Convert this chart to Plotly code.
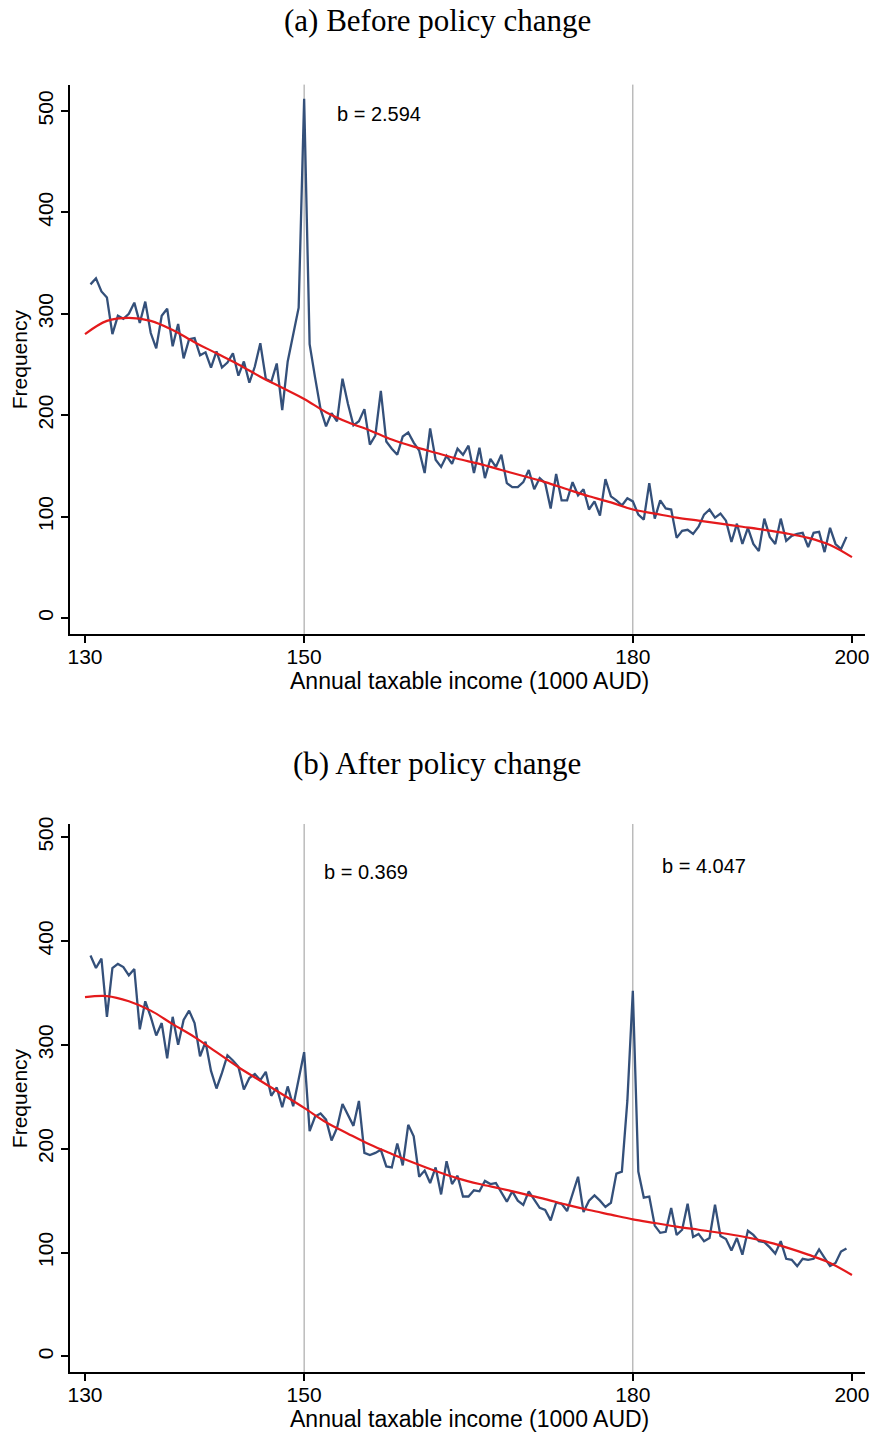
import numpy as np
import plotly.graph_objects as go

# ---------------- data ----------------
income_bins = list(np.arange(130.5, 199.75, 0.5))  # bin positions (1000 AUD)

freq_before = [
    329, 335, 322, 316, 280, 298, 295, 300, 311, 291, 312, 281, 266, 298, 305, 268, 290, 256,
    275, 276, 259, 262, 247, 263, 247, 252, 261, 239, 253, 232, 248, 271, 236, 233, 251, 205,
    253, 281, 306, 512, 270, 237, 206, 189, 202, 194, 236, 211, 190, 194, 206, 171, 180, 224,
    174, 167, 161, 179, 183, 173, 165, 143, 187, 156, 149, 160, 152, 167, 161, 170, 143, 168,
    138, 157, 149, 161, 133, 129, 129, 134, 146, 127, 138, 133, 108, 142, 116, 116, 134, 121,
    127, 107, 115, 101, 137, 120, 116, 111, 118, 115, 102, 97, 133, 98, 116, 108, 107, 79,
    86, 87, 83, 90, 102, 107, 99, 103, 96, 75, 93, 73, 89, 73, 66, 98, 80, 73,
    98, 76, 81, 83, 84, 70, 84, 85, 65, 89, 73, 68, 80,
]

freq_after = [
    386, 374, 383, 327, 374, 378, 375, 367, 373, 315, 342, 327, 309, 321, 287, 327, 300, 324,
    333, 321, 289, 303, 275, 258, 273, 290, 285, 279, 257, 268, 272, 266, 274, 251, 259, 240,
    260, 241, 267, 293, 217, 231, 234, 228, 208, 220, 243, 233, 222, 246, 196, 194, 196, 199,
    183, 182, 205, 184, 223, 212, 173, 179, 167, 182, 156, 188, 166, 174, 154, 154, 160, 159,
    169, 166, 167, 158, 149, 159, 150, 146, 159, 151, 143, 141, 131, 148, 147, 140, 157, 173,
    139, 150, 155, 150, 144, 148, 176, 178, 246, 352, 178, 153, 154, 126, 119, 120, 143, 117,
    122, 147, 115, 118, 111, 114, 146, 116, 113, 102, 114, 98, 121, 117, 111, 110, 105, 99,
    111, 94, 93, 87, 94, 93, 94, 103, 95, 87, 90, 101, 104,
]

fit_x = [130, 132, 134, 136, 138, 140, 142, 144, 146, 148, 150, 152, 154, 156, 158, 160, 162, 164,
         166, 168, 170, 172, 174, 176, 178, 180, 182, 184, 186, 188, 190, 192, 194, 196, 198, 200]
fit_before = [280, 293, 296, 293, 284, 272, 261, 250, 238, 227, 216, 203, 193, 185, 176, 169, 163, 157,
              152, 146, 140, 134, 127, 120, 114, 107, 103, 99, 96, 93, 90, 87, 83.5, 79, 72, 60]
fit_after = [346, 347, 342, 333, 320, 307.5, 293, 278.5, 265.5, 252.5, 239.3, 225.5, 214.5, 204, 195,
             186.5, 178.5, 171.5, 166, 161.5, 156.5, 151.5, 146, 141, 136.5, 132, 128.5, 125, 122,
             119, 115.5, 111, 105, 98, 90, 78.4]

x_ticks = [130, 150, 180, 200]
y_ticks = [0, 100, 200, 300, 400, 500]
thresholds_before = [150, 180]
thresholds_after = [150, 180]
titles = ["(a) Before policy change", "(b) After policy change"]
b_labels_before = [(152.8, 497, "b = 2.594")]
b_labels_after = [(151.6, 466, "b = 0.369"), (182.5, 472, "b = 4.047")]

# ---------------- figure ----------------
W, H = 876, 1436
ML, MR = 70, 11
PW = W - ML - MR
SANS = "Liberation Sans, Arial, sans-serif"
SERIF = "Liberation Serif, Times New Roman, serif"
LINE_BLUE = "#34507a"
FIT_RED = "#e41a1c"


def px_x(px):
    return (px - ML) / PW


def px_y(py):
    return 1 - py / H


fig = go.Figure()

panels = [
    dict(xa="x", ya="y", freq=freq_before, fit=fit_before, thr=thresholds_before,
         labels=b_labels_before, top=78, bottom=630, yr=[-15.7, 526], title=titles[0], ty=14),
    dict(xa="x2", ya="y2", freq=freq_after, fit=fit_after, thr=thresholds_after,
         labels=b_labels_after, top=821, bottom=1372, yr=[-15.3, 512.7], title=titles[1], ty=760),
]

shapes = []
annotations = []
for i, p in enumerate(panels):
    fig.add_trace(go.Scatter(x=income_bins, y=p["freq"], mode="lines",
                             line=dict(color=LINE_BLUE, width=2.3),
                             xaxis=p["xa"], yaxis=p["ya"], showlegend=False))
    fig.add_trace(go.Scatter(x=fit_x, y=p["fit"], mode="lines",
                             line=dict(color=FIT_RED, width=2.2, shape="spline"),
                             xaxis=p["xa"], yaxis=p["ya"], showlegend=False))
    for t in p["thr"]:
        shapes.append(dict(type="line", xref=p["xa"], yref=f"{p['ya']} domain",
                           x0=t, x1=t, y0=0, y1=1, layer="below",
                           line=dict(color="#9a9a9a", width=1)))
    for (lx, ly, txt) in p["labels"]:
        annotations.append(dict(x=lx, y=ly, xref=p["xa"], yref=p["ya"], text=txt,
                                showarrow=False, xanchor="left", yanchor="middle",
                                font=dict(family=SANS, size=20, color="black")))
    annotations.append(dict(x=px_x(437), y=px_y(p["ty"]), xref="paper", yref="paper",
                            text=p["title"], showarrow=False, xanchor="center",
                            yanchor="middle", font=dict(family=SERIF, size=31, color="black")))
    annotations.append(dict(x=px_x(469), y=px_y(p["bottom"] + 47), xref="paper",
                            yref="paper", text="Annual taxable income (1000 AUD)",
                            showarrow=False, xanchor="center", yanchor="middle",
                            font=dict(family=SANS, size=23, color="black")))
    annotations.append(dict(x=px_x(19), y=px_y((p["top"] + p["bottom"]) / 2), xref="paper",
                            yref="paper", text="Frequency", textangle=-90, showarrow=False,
                            xanchor="center", yanchor="middle",
                            font=dict(family=SANS, size=21, color="black")))

    dom = [1 - p["bottom"] / H, 1 - p["top"] / H]
    axis_common = dict(showline=True, linecolor="black", linewidth=1.5, ticks="outside",
                       ticklen=7, tickwidth=1.5, tickcolor="black", showgrid=False,
                       zeroline=False, tickfont=dict(family=SANS, size=21, color="black"))
    xkey = "xaxis" if i == 0 else "xaxis2"
    ykey = "yaxis" if i == 0 else "yaxis2"
    fig.update_layout(**{
        xkey: dict(axis_common, range=[128.63, 201.19], tickvals=x_ticks,
                   anchor=p["ya"], domain=[0, 1], ticklabelstandoff=-4),
        ykey: dict(axis_common, range=p["yr"], tickvals=y_ticks, tickangle=-90,
                   anchor=p["xa"], domain=dom),
    })

fig.update_layout(width=W, height=H, margin=dict(l=ML, r=MR, t=0, b=0),
                  plot_bgcolor="white", paper_bgcolor="white",
                  shapes=shapes, annotations=annotations)

fig.write_html("out.html")
